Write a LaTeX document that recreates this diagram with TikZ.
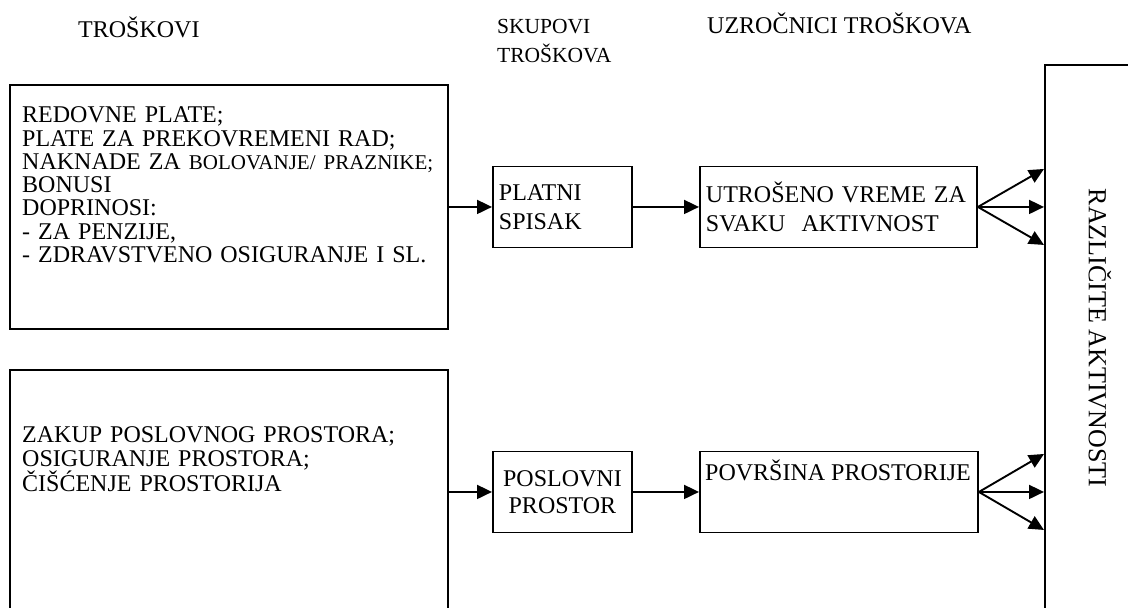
\documentclass[tikz,border=0pt]{standalone}
\usepackage{fontspec}
\setmainfont{Liberation Serif}
\usetikzlibrary{arrows.meta, positioning, calc}

\tikzset{
  box/.style={draw, line width=1.9pt, anchor=north west, inner sep=6pt},
  txt/.style={anchor=base west, inner sep=0pt, align=left, font=\fontsize{24}{23.3}\selectfont},
  arr/.style={line width=1.9pt, -{Triangle[length=15pt, width=14pt]}},
}

\begin{document}
\begin{tikzpicture}[x=1pt, y=-1pt]
  \clip (0,0) rectangle (1128,608);
  % headings
  \node[txt] (hTroskovi) at (78,37) {TROŠKOVI};
  \node[txt, text width=120pt, font=\fontsize{21.5}{29}\selectfont] (hSkupovi) at (497,33) {SKUPOVI\\TROŠKOVA};
  \node[txt, font=\fontsize{24}{29}\selectfont] (hUzrocnici) at (707,33) {UZROČNICI TROŠKOVA};

  % costs
  \node[box, minimum width=438pt, minimum height=244pt] (plate) at (9,84) {};
  \node[box, minimum width=438pt, minimum height=244pt] (prostor) at (9,369) {};
  \node[txt, text width=420pt] (plateTxt) at ([xshift=13pt, yshift=-38.7pt]plate.north west)
    {REDOVNE PLATE;\\PLATE ZA PREKOVREMENI RAD;\\NAKNADE ZA {\fontsize{21}{23.3}\selectfont BOLOVANJE/ PRAZNIKE;}\\BONUSI\\DOPRINOSI:\\- ZA PENZIJE,\\- ZDRAVSTVENO OSIGURANJE I SL.};
  \node[txt, text width=420pt] (prostorTxt) at ([xshift=13pt, yshift=-73.7pt]prostor.north west)
    {ZAKUP POSLOVNOG PROSTORA;\\OSIGURANJE PROSTORA;\\ČIŠĆENJE PROSTORIJA};

  % cost pools and drivers
  \node[box, minimum width=139pt, minimum height=81pt, text width=127pt, align=left, font=\fontsize{24}{29}\selectfont] (platni) at (492,165.5) {PLATNI\\SPISAK};
  \node[box, minimum width=277pt, minimum height=81pt, text width=265pt, align=left, font=\fontsize{24}{29}\selectfont] (utros) at (699,165.5) {UTROŠENO VREME ZA\\SVAKU\ \ AKTIVNOST};
  \node[box, minimum width=139pt, minimum height=81pt, text width=127pt, align=center, font=\fontsize{24}{27}\selectfont] (poslovni) at (492,450.5) {POSLOVNI\\PROSTOR};
  \node[box, minimum width=278pt, minimum height=81pt] (povrs) at (699,450.5) {};
  \node[txt] (povrsTxt) at ([xshift=6pt, yshift=-29.5pt]povrs.north west) {POVRŠINA PROSTORIJE};

  % activities
  \node[box, minimum width=112pt, minimum height=546pt] (aktiv) at (1044,64) {};
  \node[rotate=-90, inner sep=0pt, font=\fontsize{26}{29}\selectfont] (aktivTxt) at ([xshift=-1pt]aktiv.center) {RAZLIČITE AKTIVNOSTI};

  % arrows
  \draw[arr] (plate.east) -- (platni.west);
  \draw[arr] (platni.east) -- (utros.west);
  \draw[arr] (prostor.east) -- (poslovni.west);
  \draw[arr] (poslovni.east) -- (povrs.west);
  \foreach \d in {-38,0,38} {
    \draw[arr] (utros.east) -- ($(utros.east -| aktiv.west)+(0,\d)$);
    \draw[arr] (povrs.east) -- ($(povrs.east -| aktiv.west)+(0,\d)$);
  }
\end{tikzpicture}
\end{document}
